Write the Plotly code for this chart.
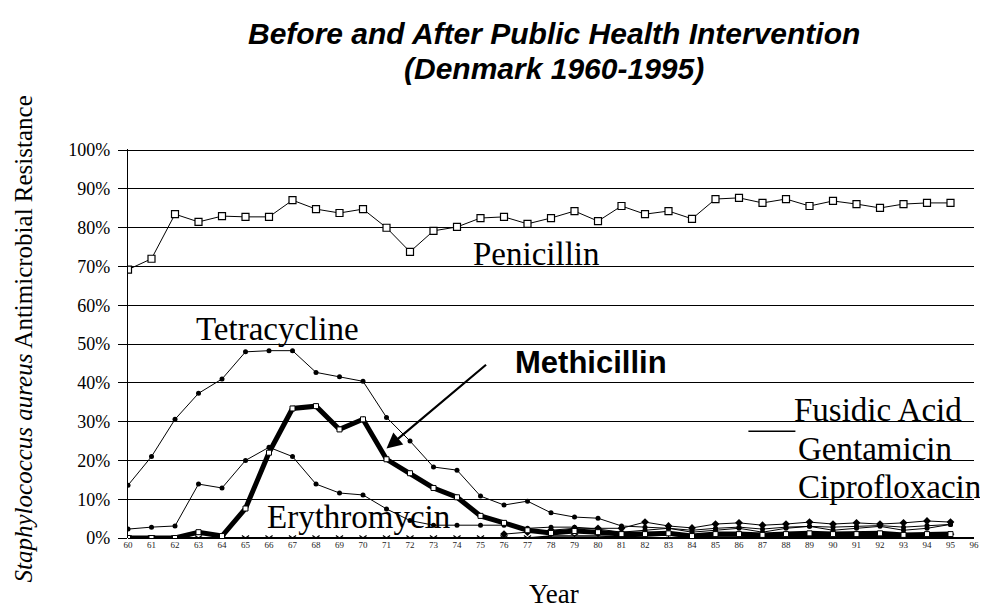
import plotly.graph_objects as go

years = list(range(60, 96))
tick_years = list(range(60, 97))
tick_labels = [str(y) for y in tick_years]

penicillin = [69.2, 72.0, 83.5, 81.5, 83.0, 82.8, 82.8, 87.1, 84.8, 83.8, 84.8, 80.0,
              73.8, 79.2, 80.2, 82.5, 82.8, 81.0, 82.5, 84.3, 81.7, 85.6, 83.5, 84.3,
              82.3, 87.4, 87.7, 86.4, 87.4, 85.6, 86.9, 86.1, 85.1, 86.1, 86.4, 86.4]

tetracycline = [13.6, 21.0, 30.6, 37.3, 41.0, 48.0, 48.3, 48.3, 42.7, 41.6, 40.4, 31.1,
                25.0, 18.3, 17.5, 10.8, 8.5, 9.5, 6.5, 5.4, 5.1, 3.1, 2.8, 2.5,
                2.0, 2.5, 2.8, 2.3, 2.8, 3.0, 2.8, 3.0, 3.2, 2.8, 3.2, 3.5]

erythromycin = [2.3, 2.8, 3.1, 13.9, 12.9, 20.0, 23.4, 21.0, 13.9, 11.6, 11.1, 7.5,
                4.5, 3.3, 3.3, 3.3, 3.3, 2.5, 2.8, 2.8, 2.3, 1.5, 2.0, 2.5,
                1.5, 2.0, 2.5, 1.5, 2.5, 3.0, 2.0, 2.5, 3.0, 2.0, 2.5, 3.5]

methicillin = [0.0, 0.0, 0.0, 1.5, 0.5, 7.6, 22.0, 33.4, 34.0, 28.0, 30.6, 20.3,
               16.7, 12.9, 10.5, 5.7, 3.9, 2.0, 1.3, 1.8, 1.5, 1.0, 1.0, 1.2,
               0.5, 1.0, 1.0, 0.8, 1.0, 1.2, 1.0, 1.0, 1.2, 0.8, 1.0, 1.0]

fusidic_years = list(range(76, 96))
fusidic_acid = [1.0, 1.5, 2.0, 2.5, 2.5, 2.5, 4.1, 3.1, 2.6, 3.6, 3.9, 3.3, 3.6, 4.1,
                3.6, 3.9, 3.6, 3.9, 4.4, 4.1]

gentamicin = [0.0, 0.0, 0.0, 0.0, 0.0, 0.0, 0.0, 0.0, 0.0, 0.0, 0.0, 0.0,
              0.0, 0.0, 0.0, 0.0, 0.0, 0.0, 0.5, 0.5, 0.5, 0.3, 0.5, 0.8,
              0.3, 0.5, 0.5, 0.3, 0.5, 0.8, 0.5, 0.5, 0.8, 0.5, 0.5, 0.5]

cipro_years = list(range(88, 96))
ciprofloxacin = [0.3, 0.3, 0.5, 0.5, 0.3, 0.5, 0.5, 0.5]

y_ticks = [0, 10, 20, 30, 40, 50, 60, 70, 80, 90, 100]
y_tick_labels = [f"{v}%" for v in y_ticks]

SERIF = "Liberation Serif, Times New Roman, serif"
SANS = "Liberation Sans, Arial, sans-serif"

fig = go.Figure()

fig.add_trace(go.Scatter(x=years, y=gentamicin, mode="lines+markers",
                         line=dict(color="black", width=1.5),
                         marker=dict(symbol="y-down-open", size=6, line=dict(color="black", width=1.2))))
fig.add_trace(go.Scatter(x=cipro_years, y=ciprofloxacin, mode="lines+markers",
                         line=dict(color="black", width=2),
                         marker=dict(symbol="circle", size=4, color="black")))
fig.add_trace(go.Scatter(x=fusidic_years, y=fusidic_acid, mode="lines+markers",
                         line=dict(color="black", width=1),
                         marker=dict(symbol="diamond", size=6, color="black")))
fig.add_trace(go.Scatter(x=years, y=erythromycin, mode="lines+markers",
                         line=dict(color="black", width=1),
                         marker=dict(symbol="circle", size=5, color="black")))
fig.add_trace(go.Scatter(x=years, y=tetracycline, mode="lines+markers",
                         line=dict(color="black", width=1),
                         marker=dict(symbol="circle", size=5, color="black")))
fig.add_trace(go.Scatter(x=years, y=methicillin, mode="lines+markers",
                         line=dict(color="black", width=5),
                         marker=dict(symbol="square", size=5, color="white",
                                     line=dict(color="black", width=1))))
fig.add_trace(go.Scatter(x=years, y=penicillin, mode="lines+markers",
                         line=dict(color="black", width=1),
                         marker=dict(symbol="square", size=7, color="white",
                                     line=dict(color="black", width=1.2))))

label_font = dict(family=SERIF, size=33, color="black")
labels = [
    ("Penicillin", 77.4, 73.3),
    ("Tetracycline", 66.35, 54.0),
    ("Fusidic Acid", 91.9, 32.9),
    ("Gentamicin", 91.8, 22.9),
    ("Ciprofloxacin", 92.4, 13.1),
    ("Erythromycin", 69.8, 5.4),
]
for text, x, y in labels:
    fig.add_annotation(x=x, y=y, xref="x", yref="y", text=text, showarrow=False,
                       xanchor="center", yanchor="middle", font=label_font)

fig.add_annotation(x=79.7, y=45.2, xref="x", yref="y", text="<b>Methicillin</b>",
                   showarrow=False, xanchor="center", yanchor="middle",
                   font=dict(family=SANS, size=31, color="black"))

# arrow pointing to methicillin curve
fig.add_annotation(x=71.0, y=23.1, xref="x", yref="y", ax=75.3, ay=45.0,
                   axref="x", ayref="y", text="", showarrow=True,
                   arrowhead=2, arrowsize=1.4, arrowwidth=2.2, arrowcolor="black")

# leader line before Fusidic Acid
fig.add_shape(type="line", xref="x", yref="y", x0=86.4, x1=88.4, y0=27.5, y1=27.5,
              line=dict(color="black", width=1.5))

# title
fig.add_annotation(x=0.503, y=1.296, xref="paper", yref="paper",
                   xanchor="center", yanchor="middle",
                   text="<b><i>Before and After Public Health Intervention</i></b>",
                   showarrow=False, font=dict(family=SANS, size=30, color="black"))
fig.add_annotation(x=0.503, y=1.206, xref="paper", yref="paper",
                   xanchor="center", yanchor="middle",
                   text="<b><i>(Denmark 1960-1995)</i></b>",
                   showarrow=False, font=dict(family=SANS, size=30, color="black"))

# axis titles
fig.add_annotation(x=-0.1234, y=0.512, xref="paper", yref="paper", textangle=-90,
                   xanchor="center", yanchor="middle",
                   text="<i>Staphylococcus aureus</i> Antimicrobial Resistance",
                   showarrow=False, font=dict(family=SERIF, size=25, color="black"))
fig.add_annotation(x=0.504, y=-0.144, xref="paper", yref="paper", text="Year",
                   xanchor="center", yanchor="middle",
                   showarrow=False, font=dict(family=SERIF, size=27, color="black"))

fig.update_layout(
    width=980, height=604,
    margin=dict(l=120, r=9, t=141, b=74),
    paper_bgcolor="white", plot_bgcolor="white",
    showlegend=False,
    xaxis=dict(range=[60, 96], tickvals=tick_years, ticktext=tick_labels,
               showgrid=False, zeroline=False, showline=False,
               tickfont=dict(family=SERIF, size=9, color="#222"),
               ticks="", ticklabelstandoff=0),
    yaxis=dict(range=[0, 100.3], tickvals=y_ticks, ticktext=y_tick_labels,
               showgrid=True, gridcolor="black", gridwidth=1.3,
               zeroline=True, zerolinecolor="black", zerolinewidth=1.5,
               showline=True, linecolor="black", linewidth=1.3,
               ticks="outside", ticklen=9, tickcolor="black",
               ticklabelstandoff=4,
               tickfont=dict(family=SERIF, size=18, color="black")),
)

fig.write_html("out.html")
